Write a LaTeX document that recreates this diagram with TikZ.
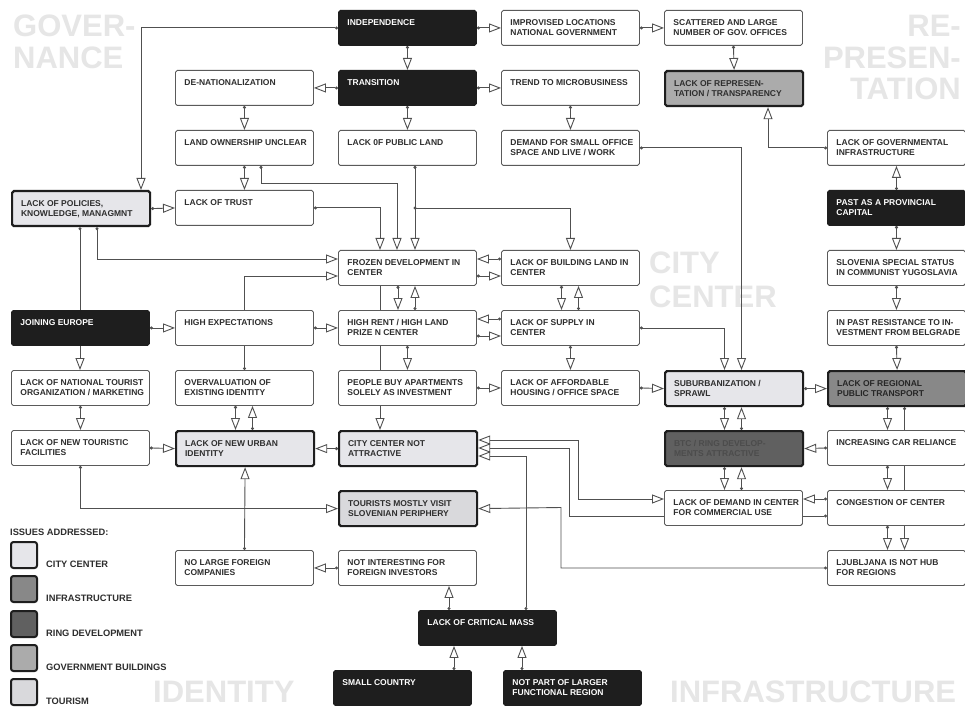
\documentclass[tikz,border=0pt]{standalone}
\usepackage{fontspec}
\setmainfont{Liberation Sans}
\usetikzlibrary{arrows.meta}
\pgfdeclarelayer{wm}
\pgfdeclarelayer{lines}
\pgfsetlayers{wm,lines,main}
\definecolor{linec}{HTML}{505050}
\definecolor{boxc}{HTML}{5A5A5A}
\definecolor{txtc}{HTML}{2E2E2E}
\definecolor{blk}{HTML}{1E1E1E}
\definecolor{ccfill}{HTML}{E6E6EA}
\definecolor{tourfill}{HTML}{D9D9DC}
\definecolor{infrafill}{HTML}{888888}
\definecolor{ringfill}{HTML}{606060}
\definecolor{govfill}{HTML}{ABABAB}
\definecolor{wmc}{HTML}{E6E6E6}
\newcommand{\boxtxt}[1]{\parbox[c][35pt][t]{120pt}{\rule{0pt}{15pt}\makebox[0pt][l]{\begin{tabular}[t]{@{}l@{}}#1\end{tabular}}}}
\tikzset{
  >={Triangle[length=12pt,width=9pt,fill=white]},
  bx/.style={draw=boxc, line width=0.9pt, fill=white, rounded corners=1.8pt,
    minimum width=138pt, minimum height=35pt, inner sep=0pt, anchor=north west,
    text=txtc, font=\fontsize{8.5}{10}\selectfont\bfseries},
  hl/.style={bx, draw=blk, line width=2.2pt},
  dk/.style={bx, draw=blk, fill=blk, text=white},
  conn/.style={draw=linec, line width=0.9pt, ->},
  dconn/.style={draw=linec, line width=0.9pt, arrows={{Circle[length=3pt]}->}},
  biconn/.style={draw=linec, line width=0.9pt, <->},
  legsq/.style={draw=blk, line width=2pt, rounded corners=2.5pt, minimum size=26pt,
    inner sep=0pt, anchor=north west},
  legtxt/.style={anchor=base west, inner sep=0pt, text=txtc,
    font=\fontsize{9.3}{11}\selectfont\bfseries},
  wmw/.style={anchor=base west, inner sep=0pt, text=wmc, font=\fontsize{31}{32}\selectfont\bfseries},
  wme/.style={anchor=base east, inner sep=0pt, text=wmc, font=\fontsize{31}{32}\selectfont\bfseries},
}
\begin{document}
\begin{tikzpicture}[x=1pt,y=-1pt]
\useasboundingbox (0,0) rectangle (965,708);
\begin{pgfonlayer}{wm}
\fill[white] (0,0) rectangle (965,708);
\node[wmw] (wg1) at (13,37) {GOVER-};
\node[wmw] (wg2) at (13,69) {NANCE};
\node[wme] (wr1) at (961,37) {RE-};
\node[wme] (wr2) at (961,69) {PRESEN-};
\node[wme] (wr3) at (961,100) {TATION};
\node[wmw] (wc1) at (649,273) {CITY};
\node[wmw] (wc2) at (649,307) {CENTER};
\node[wmw] (wi1) at (153,702) {IDENTITY};
\node[wmw] (wi2) at (670,702) {INFRASTRUCTURE};
\end{pgfonlayer}

% row 1
\node[dk] (indep) at (338,10) {\boxtxt{INDEPENDENCE}};
\node[bx] (improv) at (501,10) {\boxtxt{IMPROVISED LOCATIONS\\NATIONAL GOVERNMENT}};
\node[bx] (scatt) at (664,10) {\boxtxt{SCATTERED AND LARGE\\NUMBER OF GOV. OFFICES}};
% row 2
\node[bx] (denat) at (175,70) {\boxtxt{DE-NATIONALIZATION}};
\node[dk] (trans) at (338,70) {\boxtxt{TRANSITION}};
\node[bx] (trend) at (501,70) {\boxtxt{TREND TO MICROBUSINESS}};
\node[hl, fill=govfill] (repr) at (664,70) {\boxtxt{LACK OF REPRESEN-\\TATION / TRANSPARENCY}};
% row 3
\node[bx] (landown) at (175,130) {\boxtxt{LAND OWNERSHIP UNCLEAR}};
\node[bx] (publand) at (338,130) {\boxtxt{LACK 0F PUBLIC LAND}};
\node[bx] (demand) at (501,130) {\boxtxt{DEMAND FOR SMALL OFFICE\\SPACE AND LIVE / WORK}};
\node[bx] (govinfra) at (827,130) {\boxtxt{LACK OF GOVERNMENTAL\\INFRASTRUCTURE}};
% row 4
\node[hl, fill=ccfill] (policies) at (11,190) {\boxtxt{LACK OF POLICIES,\\KNOWLEDGE, MANAGMNT}};
\node[bx] (trust) at (175,190) {\boxtxt{LACK OF TRUST}};
\node[dk] (provcap) at (827,190) {\boxtxt{PAST AS A PROVINCIAL\\CAPITAL}};
% row 5
\node[bx] (frozen) at (338,250) {\boxtxt{FROZEN DEVELOPMENT IN\\CENTER}};
\node[bx] (buildland) at (501,250) {\boxtxt{LACK OF BUILDING LAND IN\\CENTER}};
\node[bx] (slovenia) at (827,250) {\boxtxt{SLOVENIA SPECIAL STATUS\\IN COMMUNIST YUGOSLAVIA}};
% row 6
\node[dk] (europe) at (11,310) {\boxtxt{JOINING EUROPE}};
\node[bx] (highexp) at (175,310) {\boxtxt{HIGH EXPECTATIONS}};
\node[bx] (highrent) at (338,310) {\boxtxt{HIGH RENT / HIGH LAND\\PRIZE N CENTER}};
\node[bx] (supply) at (501,310) {\boxtxt{LACK OF SUPPLY IN\\CENTER}};
\node[bx] (resist) at (827,310) {\boxtxt{IN PAST RESISTANCE TO IN-\\VESTMENT FROM BELGRADE}};
% row 7
\node[bx] (tourorg) at (11,370) {\boxtxt{LACK OF NATIONAL TOURIST\\ORGANIZATION / MARKETING}};
\node[bx] (overval) at (175,370) {\boxtxt{OVERVALUATION OF\\EXISTING IDENTITY}};
\node[bx] (peoplebuy) at (338,370) {\boxtxt{PEOPLE BUY APARTMENTS\\SOLELY AS INVESTMENT}};
\node[bx] (afford) at (501,370) {\boxtxt{LACK OF AFFORDABLE\\HOUSING / OFFICE SPACE}};
\node[hl, fill=ccfill] (suburb) at (664,370) {\boxtxt{SUBURBANIZATION /\\SPRAWL}};
\node[hl, fill=infrafill, text=black!85] (regtrans) at (827,370) {\boxtxt{LACK OF REGIONAL\\PUBLIC TRANSPORT}};
% row 8
\node[bx] (touristfac) at (11,430) {\boxtxt{LACK OF NEW TOURISTIC\\FACILITIES}};
\node[hl, fill=ccfill] (urbanid) at (175,430) {\boxtxt{LACK OF NEW URBAN\\IDENTITY}};
\node[hl, fill=ccfill] (ccna) at (338,430) {\boxtxt{CITY CENTER NOT\\ATTRACTIVE}};
\node[hl, fill=ringfill, text=black!70] (btc) at (664,430) {\boxtxt{BTC / RING DEVELOP-\\MENTS ATTRACTIVE}};
\node[bx] (carrel) at (827,430) {\boxtxt{INCREASING CAR RELIANCE}};
% row 9
\node[hl, fill=tourfill] (tourists) at (338,490) {\boxtxt{TOURISTS MOSTLY VISIT\\SLOVENIAN PERIPHERY}};
\node[bx] (demandcc) at (664,490) {\boxtxt{LACK OF DEMAND IN CENTER\\FOR COMMERCIAL USE}};
\node[bx] (congest) at (827,490) {\boxtxt{CONGESTION OF CENTER}};
% row 10
\node[bx] (nolarge) at (175,550) {\boxtxt{NO LARGE FOREIGN\\COMPANIES}};
\node[bx] (notint) at (338,550) {\boxtxt{NOT INTERESTING FOR\\FOREIGN INVESTORS}};
\node[bx] (ljub) at (827,550) {\boxtxt{LJUBLJANA IS NOT HUB\\FOR REGIONS}};
% rows 11-12
\node[dk] (critmass) at (418,610) {\boxtxt{LACK OF CRITICAL MASS}};
\node[dk] (smallc) at (333,670) {\boxtxt{SMALL COUNTRY}};
\node[dk] (notpart) at (503,670) {\boxtxt{NOT PART OF LARGER\\FUNCTIONAL REGION}};

% legend
\node[legtxt] (legt) at (10,535) {ISSUES ADDRESSED:};
\node[legsq, fill=ccfill] (lg1) at (10,541) {};
\node[legsq, fill=infrafill] (lg2) at (10,575) {};
\node[legsq, fill=ringfill] (lg3) at (10,610) {};
\node[legsq, fill=govfill] (lg4) at (10,644) {};
\node[legsq, fill=tourfill] (lg5) at (10,678) {};
\node[legtxt] (ll1) at (46,567) {CITY CENTER};
\node[legtxt] (ll2) at (46,601) {INFRASTRUCTURE};
\node[legtxt] (ll3) at (46,636) {RING DEVELOPMENT};
\node[legtxt] (ll4) at (46,670) {GOVERNMENT BUILDINGS};
\node[legtxt] (ll5) at (46,704) {TOURISM};

\begin{pgfonlayer}{lines}
\draw[dconn] (indep.east) -- (improv.west);
\draw[dconn] (improv.east) -- (scatt.west);
\draw[dconn] (indep.south) -- (trans.north);
\draw[dconn] (trans.west) -- (denat.east);
\draw[dconn] (trans.east) -- (trend.west);
\draw[dconn] (trans.south) -- (publand.north);
\draw[dconn] (trend.south) -- (demand.north);
\draw[dconn] (scatt.south) -- (repr.north);
\draw[dconn] (govinfra.west) -| (768,0 |- repr.south);
\draw[dconn] (provcap.north) -- (govinfra.south);
\draw[dconn] (provcap.south) -- (slovenia.north);
\draw[dconn] (slovenia.south) -- (resist.north);
\draw[dconn] (resist.south) -- (regtrans.north);
\draw[dconn] (indep.west) -| (141,0 |- policies.north);
\draw[dconn] (denat.south) -- (landown.north);
\draw[dconn] (landown.south) -- (trust.north);
\draw[dconn] (policies.east) -- (trust.west);
\draw[dconn] (261,0 |- landown.south) -- (261,183) -| (397,0 |- frozen.north);
\draw[dconn] (trust.east) -| (380,0 |- frozen.north);
\draw[dconn] (415,0 |- publand.south) -- (415,0 |- frozen.north);
\coordinate (j1) at (415,208);
\draw[conn] (j1) -| (buildland.north);
\fill[linec] (j1) circle (1.6pt);
\draw[dconn] (97,0 |- policies.south) |- (frozen.west |- 0,259);
\draw[dconn] (overval.north) |- (frozen.west |- 0,276);
\draw[dconn] (80,0 |- policies.south) -- (80,0 |- tourorg.north);
\draw[dconn] (398,0 |- frozen.south) -- (398,0 |- highrent.north);
\draw[dconn] (415,0 |- highrent.north) -- (415,0 |- frozen.south);
\draw[conn] (380,0 |- frozen.south) -- (380,0 |- ccna.north);
\draw[dconn] (buildland.west |- 0,259) -- (frozen.east |- 0,259);
\draw[dconn] (frozen.east |- 0,276) -- (buildland.west |- 0,276);
\draw[dconn] (561.5,0 |- buildland.south) -- (561.5,0 |- supply.north);
\draw[dconn] (578.5,0 |- supply.north) -- (578.5,0 |- buildland.south);
\draw[dconn] (supply.west |- 0,319) -- (highrent.east |- 0,319);
\draw[dconn] (highrent.east |- 0,336) -- (supply.west |- 0,336);
\draw[dconn] (highexp.east) -- (highrent.west);
\draw[dconn] (europe.east) -- (highexp.west);
\draw[dconn] (tourorg.south) -- (touristfac.north);
\draw[dconn] (touristfac.east) -- (urbanid.west);
\draw[dconn] (235.5,0 |- overval.south) -- (235.5,0 |- urbanid.north);
\draw[dconn] (252.5,0 |- urbanid.north) -- (252.5,0 |- overval.south);
\draw[dconn] (ccna.west) -- (urbanid.east);
\draw[dconn] (highrent.south) -- (peoplebuy.north);
\draw[dconn] (peoplebuy.east) -- (afford.west);
\draw[dconn] (supply.south) -- (afford.north);
\draw[dconn] (afford.east) -- (suburb.west);
\draw[dconn] (supply.east) -| (724.5,0 |- suburb.north);
\draw[dconn] (demand.east) -| (741.5,0 |- suburb.north);
\draw[dconn] (suburb.east) -- (regtrans.west);
\draw[dconn] (724.5,0 |- suburb.south) -- (724.5,0 |- btc.north);
\draw[dconn] (741.5,0 |- btc.north) -- (741.5,0 |- suburb.south);
\draw[dconn] (887.5,0 |- regtrans.south) -- (887.5,0 |- carrel.north);
\draw[dconn] (904.5,0 |- regtrans.south) -- (904.5,0 |- ljub.north);
\draw[dconn] (carrel.west) -- (btc.east);
\draw[dconn] (887.5,0 |- carrel.south) -- (887.5,0 |- congest.north);
\draw[dconn] (887.5,0 |- congest.south) -- (887.5,0 |- ljub.north);
\draw[dconn] (724.5,0 |- btc.south) -- (724.5,0 |- demandcc.north);
\draw[dconn] (741.5,0 |- demandcc.north) -- (741.5,0 |- btc.south);
\draw[dconn] (congest.west |- 0,499) -- (demandcc.east |- 0,499);
\draw[dconn] (congest.west |- 0,516) -| (569,448) -- (ccna.east |- 0,448);
\draw[biconn] (ccna.east |- 0,440) -| (578,499) -- (demandcc.west |- 0,499);
\draw[dconn] (526,0 |- critmass.north) |- (ccna.east |- 0,456);
\draw[dconn] (ljub.west) -| (561,507.5) -- (tourists.east);
\draw[dconn] (touristfac.south) |- (tourists.west);
\draw[dconn] (nolarge.north) -- (urbanid.south);
\draw[dconn] (notint.west) -- (nolarge.east);
\draw[dconn] (449,0 |- critmass.north) -- (449,0 |- notint.south);
\draw[dconn] (454,0 |- smallc.north) -- (454,0 |- critmass.south);
\draw[dconn] (522,0 |- notpart.north) -- (522,0 |- critmass.south);
\end{pgfonlayer}
\end{tikzpicture}
\end{document}
